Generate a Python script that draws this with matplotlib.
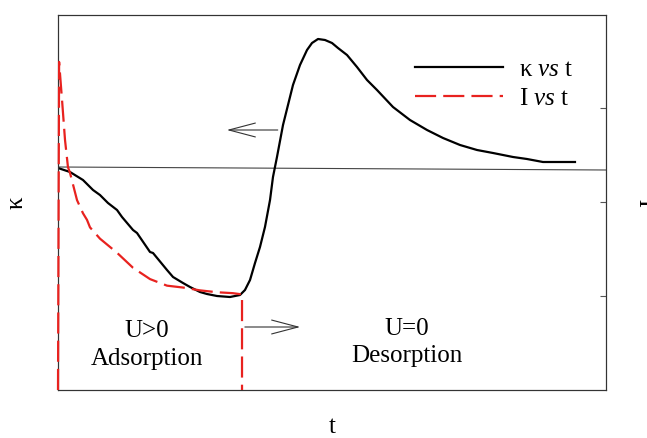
import matplotlib
matplotlib.use("Agg")
import matplotlib.pyplot as plt
from matplotlib.lines import Line2D

plt.rcParams['font.family'] = ['Liberation Serif', 'DejaVu Serif']
plt.rcParams['mathtext.fontset'] = 'custom'
plt.rcParams['mathtext.rm'] = 'Liberation Serif'
plt.rcParams['mathtext.it'] = 'Liberation Serif:italic'

# ---- data (arbitrary units) ----
kappa_t = [0, 2.19, 4.56, 6.39, 7.66, 9.12, 10.77, 11.68, 13.69, 14.42, 16.79, 17.34,
           19.89, 20.99, 22.81, 24.09, 25.91, 27.19, 29.01, 31.39, 33.21, 34.12, 35.04,
           35.95, 36.86, 37.77, 38.69, 39.23, 39.96, 41.06, 41.97, 42.88, 44.16, 45.44,
           46.35, 47.45, 48.72, 50.00, 51.09, 52.74, 54.56, 56.39, 58.21, 61.13, 64.23,
           67.34, 70.26, 73.36, 76.46, 79.38, 83.03, 85.58, 88.50, 91.61, 94.34]
kappa = [0.0, -0.4, -1.2, -2.2, -2.7, -3.5, -4.2, -4.9, -6.2, -6.5, -8.4, -8.5,
         -10.2, -10.9, -11.5, -11.9, -12.4, -12.6, -12.8, -12.9, -12.7, -12.2, -11.2,
         -9.5, -7.9, -5.9, -3.2, -0.9, 1.1, 4.3, 6.3, 8.3, 10.3, 11.8,
         12.5, 12.9, 12.8, 12.5, 12.0, 11.3, 10.1, 8.8, 7.8, 6.1, 4.8,
         3.8, 3.0, 2.3, 1.8, 1.5, 1.1, 0.9, 0.6, 0.6, 0.6]

current_t = [0, 0.2, 0.73, 1.28, 1.82, 2.19, 3.47, 4.56, 5.29, 5.84, 7.66, 10.77, 13.69,
             16.79, 19.89, 22.81, 25.91, 29.01, 31.93, 33.21, 33.58, 33.58]
current = [0.0, 3.49, 3.09, 2.66, 2.37, 2.31, 2.02, 1.88, 1.81, 1.73, 1.61, 1.46, 1.30,
           1.18, 1.11, 1.09, 1.06, 1.04, 1.03, 1.02, 1.02, 0.0]

baseline_t = [0, 100]
baseline_k = [0.1, -0.2]

current_ticks = [1, 2, 3]

RED = '#e8221f'
DASH = (0, (9.5, 3.2))
FS = 18

# ---- figure ----
fig = plt.figure(figsize=(6.47, 4.38), dpi=100)
ax = fig.add_axes([58/647, 1-390/438, 548/647, 375/438])
ax2 = ax.twinx()

ax.set_xlim(0, 100)
ax.set_ylim(-22.2, 15.3)
ax2.set_ylim(0, 375/94)

ax.plot(baseline_t, baseline_k, color='#444444', lw=0.8)
ax.plot(kappa_t, kappa, color='black', lw=1.6, solid_joinstyle='round')
ax2.plot(current_t, current, color=RED, lw=1.6, linestyle=DASH, clip_on=False, zorder=4)

for a in (ax, ax2):
    for s in a.spines.values():
        s.set_color('#333333')
        s.set_linewidth(0.8)
ax.set_xticks([])
ax.set_yticks([])
ax2.set_yticks(current_ticks)
ax2.set_yticklabels([])
ax2.tick_params(axis='y', direction='in', length=4.5, width=0.8, color='#555555')

ax.set_xlabel('t', fontsize=FS, labelpad=19)
ax.set_ylabel('κ', fontsize=FS, labelpad=22)
ax2.set_ylabel('I', fontsize=FS, labelpad=21)

# arrows indicating axes
ax.annotate('', xy=(30.8, 3.8), xytext=(40.1, 3.8),
            arrowprops=dict(arrowstyle='->,head_length=1.9,head_width=0.5',
                            color='#333333', lw=0.8, shrinkA=0, shrinkB=0))
ax.annotate('', xy=(44.2, -15.9), xytext=(34.1, -15.9),
            arrowprops=dict(arrowstyle='->,head_length=1.9,head_width=0.5',
                            color='#333333', lw=0.8, shrinkA=0, shrinkB=0))

ax.text(16.2, -16.9, 'U>0', ha='center', va='baseline', fontsize=FS)
ax.text(16.2, -19.7, 'Adsorption', ha='center', va='baseline', fontsize=FS)
ax.text(63.7, -16.7, 'U=0', ha='center', va='baseline', fontsize=FS)
ax.text(63.7, -19.4, 'Desorption', ha='center', va='baseline', fontsize=FS)

handles = [Line2D([], [], color='black', lw=1.6),
           Line2D([], [], color=RED, lw=1.6, linestyle=DASH)]
labels = [r'κ $\mathit{vs}$ t', r'I $\mathit{vs}$ t']
ax.legend(handles, labels, loc='upper left', bbox_to_anchor=(0.62, 0.931),
          frameon=False, fontsize=FS, handlelength=3.5, handletextpad=0.65,
          labelspacing=0.26, borderpad=0.2)

fig.savefig('out.png', dpi=100)
